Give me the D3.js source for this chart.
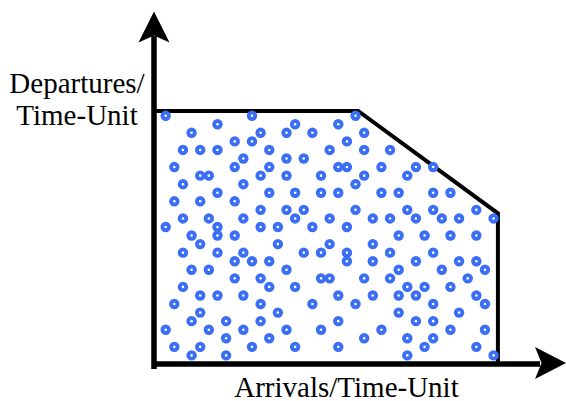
<!DOCTYPE html>
<html>
<head>
<meta charset="utf-8">
<script src="https://cdn.jsdelivr.net/npm/d3@7"></script>
<style>
    body { margin: 0; background: #fff; }
    svg text { font-family: "Liberation Serif", "Times New Roman", serif; font-size: 29px; fill: #000; }
</style>
</head>
<body>
<div id="chart"></div>
<script>

// sample points: arrivals / departures per time-unit (one entry per dot)
const arrivals = [
    0, 10, 22,
    6, 15, 20,
    3, 11, 14, 17, 23,
    8, 10, 21,
    2, 4, 6, 12, 19, 23, 26,
    9, 14, 16,
    1, 8, 12, 20, 21, 25, 29, 31,
    4, 5, 11, 14, 18, 23, 28,
    2, 9, 22,
    6, 12, 15, 18, 20, 25, 27, 31, 33,
    1, 4, 8,
    11, 14, 16, 22, 28, 31, 36,
    2, 5, 9, 15, 19, 24, 26, 29, 32, 34, 38,
    0, 6, 11, 13, 17, 21,
    3, 6, 8, 27, 30, 33, 36,
    4, 13, 19, 24,
    2, 6, 9, 16, 18, 21, 26, 31,
    8, 10, 12, 21, 24, 29, 34, 36,
    3, 5, 14, 27, 32, 37,
    8, 11, 18, 19, 23, 26, 35,
    2, 12, 15, 28, 30, 33,
    4, 6, 9, 20, 24, 27, 29, 36,
    1, 11, 17, 22, 31, 37,
    4, 13, 27, 34,
    3, 7, 11, 20, 29, 31,
    0, 5, 9, 14, 18, 25, 33, 37,
    7, 12, 23, 28, 31,
    1, 4, 10, 15, 20, 30, 36,
    3, 7, 28, 38
];

const departures = [
    28, 28, 28,
    27, 27, 27,
    26, 26, 26, 26, 26,
    25, 25, 25,
    24, 24, 24, 24, 24, 24, 24,
    23, 23, 23,
    22, 22, 22, 22, 22, 22, 22, 22,
    21, 21, 21, 21, 21, 21, 21,
    20, 20, 20,
    19, 19, 19, 19, 19, 19, 19, 19, 19,
    18, 18, 18,
    17, 17, 17, 17, 17, 17, 17,
    16, 16, 16, 16, 16, 16, 16, 16, 16, 16, 16,
    15, 15, 15, 15, 15, 15,
    14, 14, 14, 14, 14, 14, 14,
    13, 13, 13, 13,
    12, 12, 12, 12, 12, 12, 12, 12,
    11, 11, 11, 11, 11, 11, 11, 11,
    10, 10, 10, 10, 10, 10,
    9, 9, 9, 9, 9, 9, 9,
    8, 8, 8, 8, 8, 8,
    7, 7, 7, 7, 7, 7, 7, 7,
    6, 6, 6, 6, 6, 6,
    5, 5, 5, 5,
    4, 4, 4, 4, 4, 4,
    3, 3, 3, 3, 3, 3, 3, 3,
    2, 2, 2, 2, 2,
    1, 1, 1, 1, 1, 1, 1,
    0, 0, 0, 0
];

// capacity region boundary (same units)
const boundaryArrivals = [-1.4, 22.3, 38.5, 38.5];
const boundaryDepartures = [28.55, 28.55, 16.6, -0.95];

// axis labels
const yLabel = ["Departures/", "Time-Unit"];
const xLabel = "Arrivals/Time-Unit";

let width = 566, height = 401;

let svg = d3.select("#chart").append("svg")
    .attr("width", width)
    .attr("height", height);

// scales
let x = d3.scaleLinear()
    .domain([0, 38])
    .range([165.7, 493.6]);

let y = d3.scaleLinear()
    .domain([0, 28])
    .range([355.4, 115.7]);

// region boundary
let boundary = boundaryArrivals.map((a, i) => [x(a), y(boundaryDepartures[i])]);

svg.append("path")
    .attr("d", d3.line()(boundary))
    .attr("fill", "none")
    .attr("stroke", "#000")
    .attr("stroke-width", 4)
    .attr("stroke-linejoin", "miter");

// axes with arrow heads
let ox = 154, oy = 364;

svg.append("path")
    .attr("d", `M${ox},${oy + 5} L${ox},36 M${ox - 2.5},${oy} L540,${oy}`)
    .attr("fill", "none")
    .attr("stroke", "#000")
    .attr("stroke-width", 5.5);

svg.append("path")
    .attr("d", `M${ox},11.5 L${ox + 15.5},42.5 L${ox},35.5 L${ox - 15.5},42.5 Z`)
    .attr("fill", "#000");

svg.append("path")
    .attr("d", `M566,${oy - 1} L535,${oy - 17} L541.5,${oy - 1} L535,${oy + 15} Z`)
    .attr("fill", "#000");

// dots
let pts = arrivals.map((a, i) => ({a: a, d: departures[i]}));

let dots = svg.append("g").attr("class", "dots");

dots.selectAll("circle.outer")
    .data(pts)
    .enter().append("circle")
    .attr("class", "outer")
    .attr("cx", d => x(d.a))
    .attr("cy", d => y(d.d))
    .attr("r", 5.2)
    .attr("fill", "#3a6ef5");

dots.selectAll("circle.inner")
    .data(pts)
    .enter().append("circle")
    .attr("class", "inner")
    .attr("cx", d => x(d.a))
    .attr("cy", d => y(d.d))
    .attr("r", 1.3)
    .attr("fill", "#fff");

// labels
svg.append("text")
    .attr("x", 77)
    .attr("y", 92.5)
    .attr("text-anchor", "middle")
    .text(yLabel[0]);

svg.append("text")
    .attr("x", 77)
    .attr("y", 124.5)
    .attr("text-anchor", "middle")
    .text(yLabel[1]);

svg.append("text")
    .attr("x", 346.5)
    .attr("y", 396.5)
    .attr("text-anchor", "middle")
    .text(xLabel);

</script>
</body>
</html>
